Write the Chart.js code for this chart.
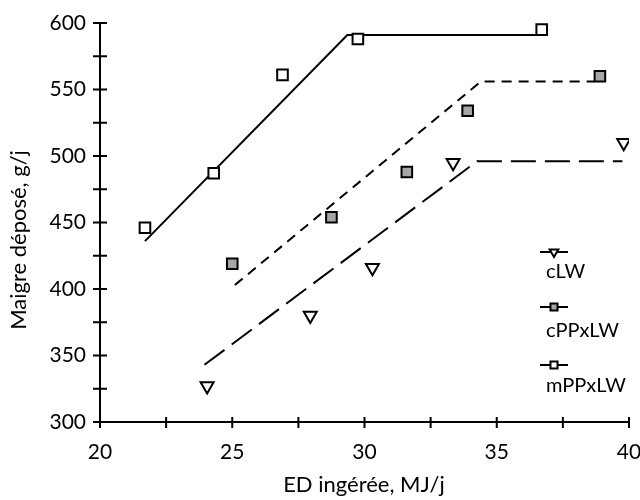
<!DOCTYPE html>
<html>
<head>
<meta charset="utf-8">
<script src="https://cdn.jsdelivr.net/npm/chart.js@4.4.1/dist/chart.umd.min.js"></script>
<style>
  html, body { margin: 0; padding: 0; background: #fff; }
  #wrap { width: 640px; height: 500px; }
</style>
</head>
<body>
<div id="wrap"><canvas id="canvas"></canvas></div>
<script>
// observed points
const xLW = [24.05, 27.95, 30.3, 33.35, 39.8];
const yLW = [327, 380, 416, 495, 510];
const xCPP = [25.0, 28.75, 31.6, 33.9, 38.9];
const yCPP = [419, 454, 488, 534, 560];
const xMPP = [21.7, 24.3, 26.9, 29.75, 36.7];
const yMPP = [446, 487, 561, 588, 595];

// fitted broken lines (start, break point, end)
const fitXLW = [23.95, 34.25, 39.75];
const fitYLW = [343, 496, 496];
const fitXCPP = [25.1, 34.4, 38.7];
const fitYCPP = [403, 556, 556];
const fitXMPP = [21.7, 29.35, 36.7];
const fitYMPP = [436, 591, 591];

const seriesNames = ['cLW', 'cPPxLW', 'mPPxLW'];
const xTitle = 'ED ingérée, MJ/j';
const yTitle = 'Maigre déposé, g/j';

const FONT = 'Lato';
const pts = (xs, ys) => xs.map((x, i) => ({x: x, y: ys[i]}));

// legend: line + marker, name written underneath
const sideLegend = {
  id: 'sideLegend',
  afterDatasetsDraw(chart) {
    const ctx = chart.ctx;
    const rows = [{sy: 252, ty: 278}, {sy: 307, ty: 337}, {sy: 365, ty: 392}];
    ctx.save();
    seriesNames.forEach((name, i) => {
      const ds = chart.data.datasets[i];
      const r = rows[i];
      ctx.strokeStyle = '#000';
      ctx.lineWidth = 2;
      ctx.beginPath();
      ctx.moveTo(540, r.sy);
      ctx.lineTo(568, r.sy);
      ctx.stroke();
      ctx.fillStyle = ds.backgroundColor;
      ctx.lineWidth = 2;
      Chart.helpers.drawPoint(ctx, {pointStyle: ds.pointStyle, rotation: ds.rotation || 0, radius: 5, borderWidth: 2}, 554, r.sy);
      ctx.fillStyle = '#000';
      ctx.font = '20px ' + FONT;
      ctx.textAlign = 'left';
      ctx.textBaseline = 'alphabetic';
      ctx.fillText(name, 546, r.ty);
    });
    ctx.restore();
  }
};

// crossing tick marks and axis titles
const axisDecor = {
  id: 'axisDecor',
  afterDraw(chart) {
    const ctx = chart.ctx;
    const a = chart.chartArea;
    const sx = chart.scales.x, sy = chart.scales.y;
    ctx.save();
    ctx.strokeStyle = '#000';
    ctx.lineWidth = 2;
    ctx.beginPath();
    sx.ticks.forEach(t => {
      const px = sx.getPixelForValue(t.value);
      ctx.moveTo(px, a.bottom - 5);
      ctx.lineTo(px, a.bottom + 6);
    });
    sy.ticks.forEach(t => {
      const py = sy.getPixelForValue(t.value);
      ctx.moveTo(a.left - 7, py);
      ctx.lineTo(a.left + 7, py);
    });
    ctx.stroke();
    ctx.fillStyle = '#000';
    ctx.textAlign = 'center';
    ctx.textBaseline = 'alphabetic';
    ctx.font = '22px ' + FONT;
    ctx.fillText(xTitle, 364, 492);
    ctx.translate(26, 240);
    ctx.rotate(-Math.PI / 2);
    ctx.fillText(yTitle, 0, 0);
    ctx.restore();
  }
};

const canvas = document.getElementById('canvas');
new Chart(canvas, {
  type: 'scatter',
  data: {
    datasets: [
      {
        label: seriesNames[0], data: pts(xLW, yLW),
        pointStyle: 'triangle', rotation: 180, pointRadius: 7.5,
        backgroundColor: '#ffffff', borderColor: '#000', pointBorderWidth: 2, order: 1
      },
      {
        label: seriesNames[1], data: pts(xCPP, yCPP),
        pointStyle: 'rect', pointRadius: 7.5,
        backgroundColor: '#a6a6a6', borderColor: '#000', pointBorderWidth: 2, order: 1
      },
      {
        label: seriesNames[2], data: pts(xMPP, yMPP),
        pointStyle: 'rect', pointRadius: 7.5,
        backgroundColor: '#ffffff', borderColor: '#000', pointBorderWidth: 2, order: 1
      },
      {
        type: 'line', label: 'fit cLW', data: pts(fitXLW, fitYLW),
        borderColor: '#000', borderWidth: 2, borderDash: [25, 9],
        pointRadius: 0, fill: false, order: 2
      },
      {
        type: 'line', label: 'fit cPPxLW', data: pts(fitXCPP, fitYCPP),
        borderColor: '#000', borderWidth: 2, borderDash: [10, 7],
        pointRadius: 0, fill: false, order: 2
      },
      {
        type: 'line', label: 'fit mPPxLW', data: pts(fitXMPP, fitYMPP),
        borderColor: '#000', borderWidth: 2,
        pointRadius: 0, fill: false, order: 2
      }
    ]
  },
  options: {
    responsive: true,
    maintainAspectRatio: false,
    animation: false,
    layout: { padding: { top: 23, right: 0, bottom: 0, left: 0 } },
    plugins: {
      legend: { display: false },
      tooltip: { enabled: false }
    },
    scales: {
      x: {
        type: 'linear', min: 20, max: 40,
        grid: { display: false, drawTicks: false },
        border: { color: '#000', width: 2 },
        ticks: {
          stepSize: 2.5, autoSkip: false, maxRotation: 0, padding: 18,
          color: '#000', font: { family: FONT, size: 21 },
          callback: v => (v % 5 === 0 ? v : '')
        },
        afterFit: s => { s.height = 78; s.paddingLeft = 0; s.paddingRight = 11; }
      },
      y: {
        type: 'linear', min: 300, max: 600,
        grid: { display: false, drawTicks: false },
        border: { color: '#000', width: 2 },
        ticks: {
          stepSize: 25, autoSkip: false, padding: 14,
          color: '#000', font: { family: FONT, size: 21 },
          callback: v => (v % 50 === 0 ? v : '')
        },
        afterFit: s => { s.width = 100; s.paddingTop = 0; s.paddingBottom = 0; }
      }
    }
  },
  plugins: [axisDecor, sideLegend]
});
</script>
</body>
</html>
